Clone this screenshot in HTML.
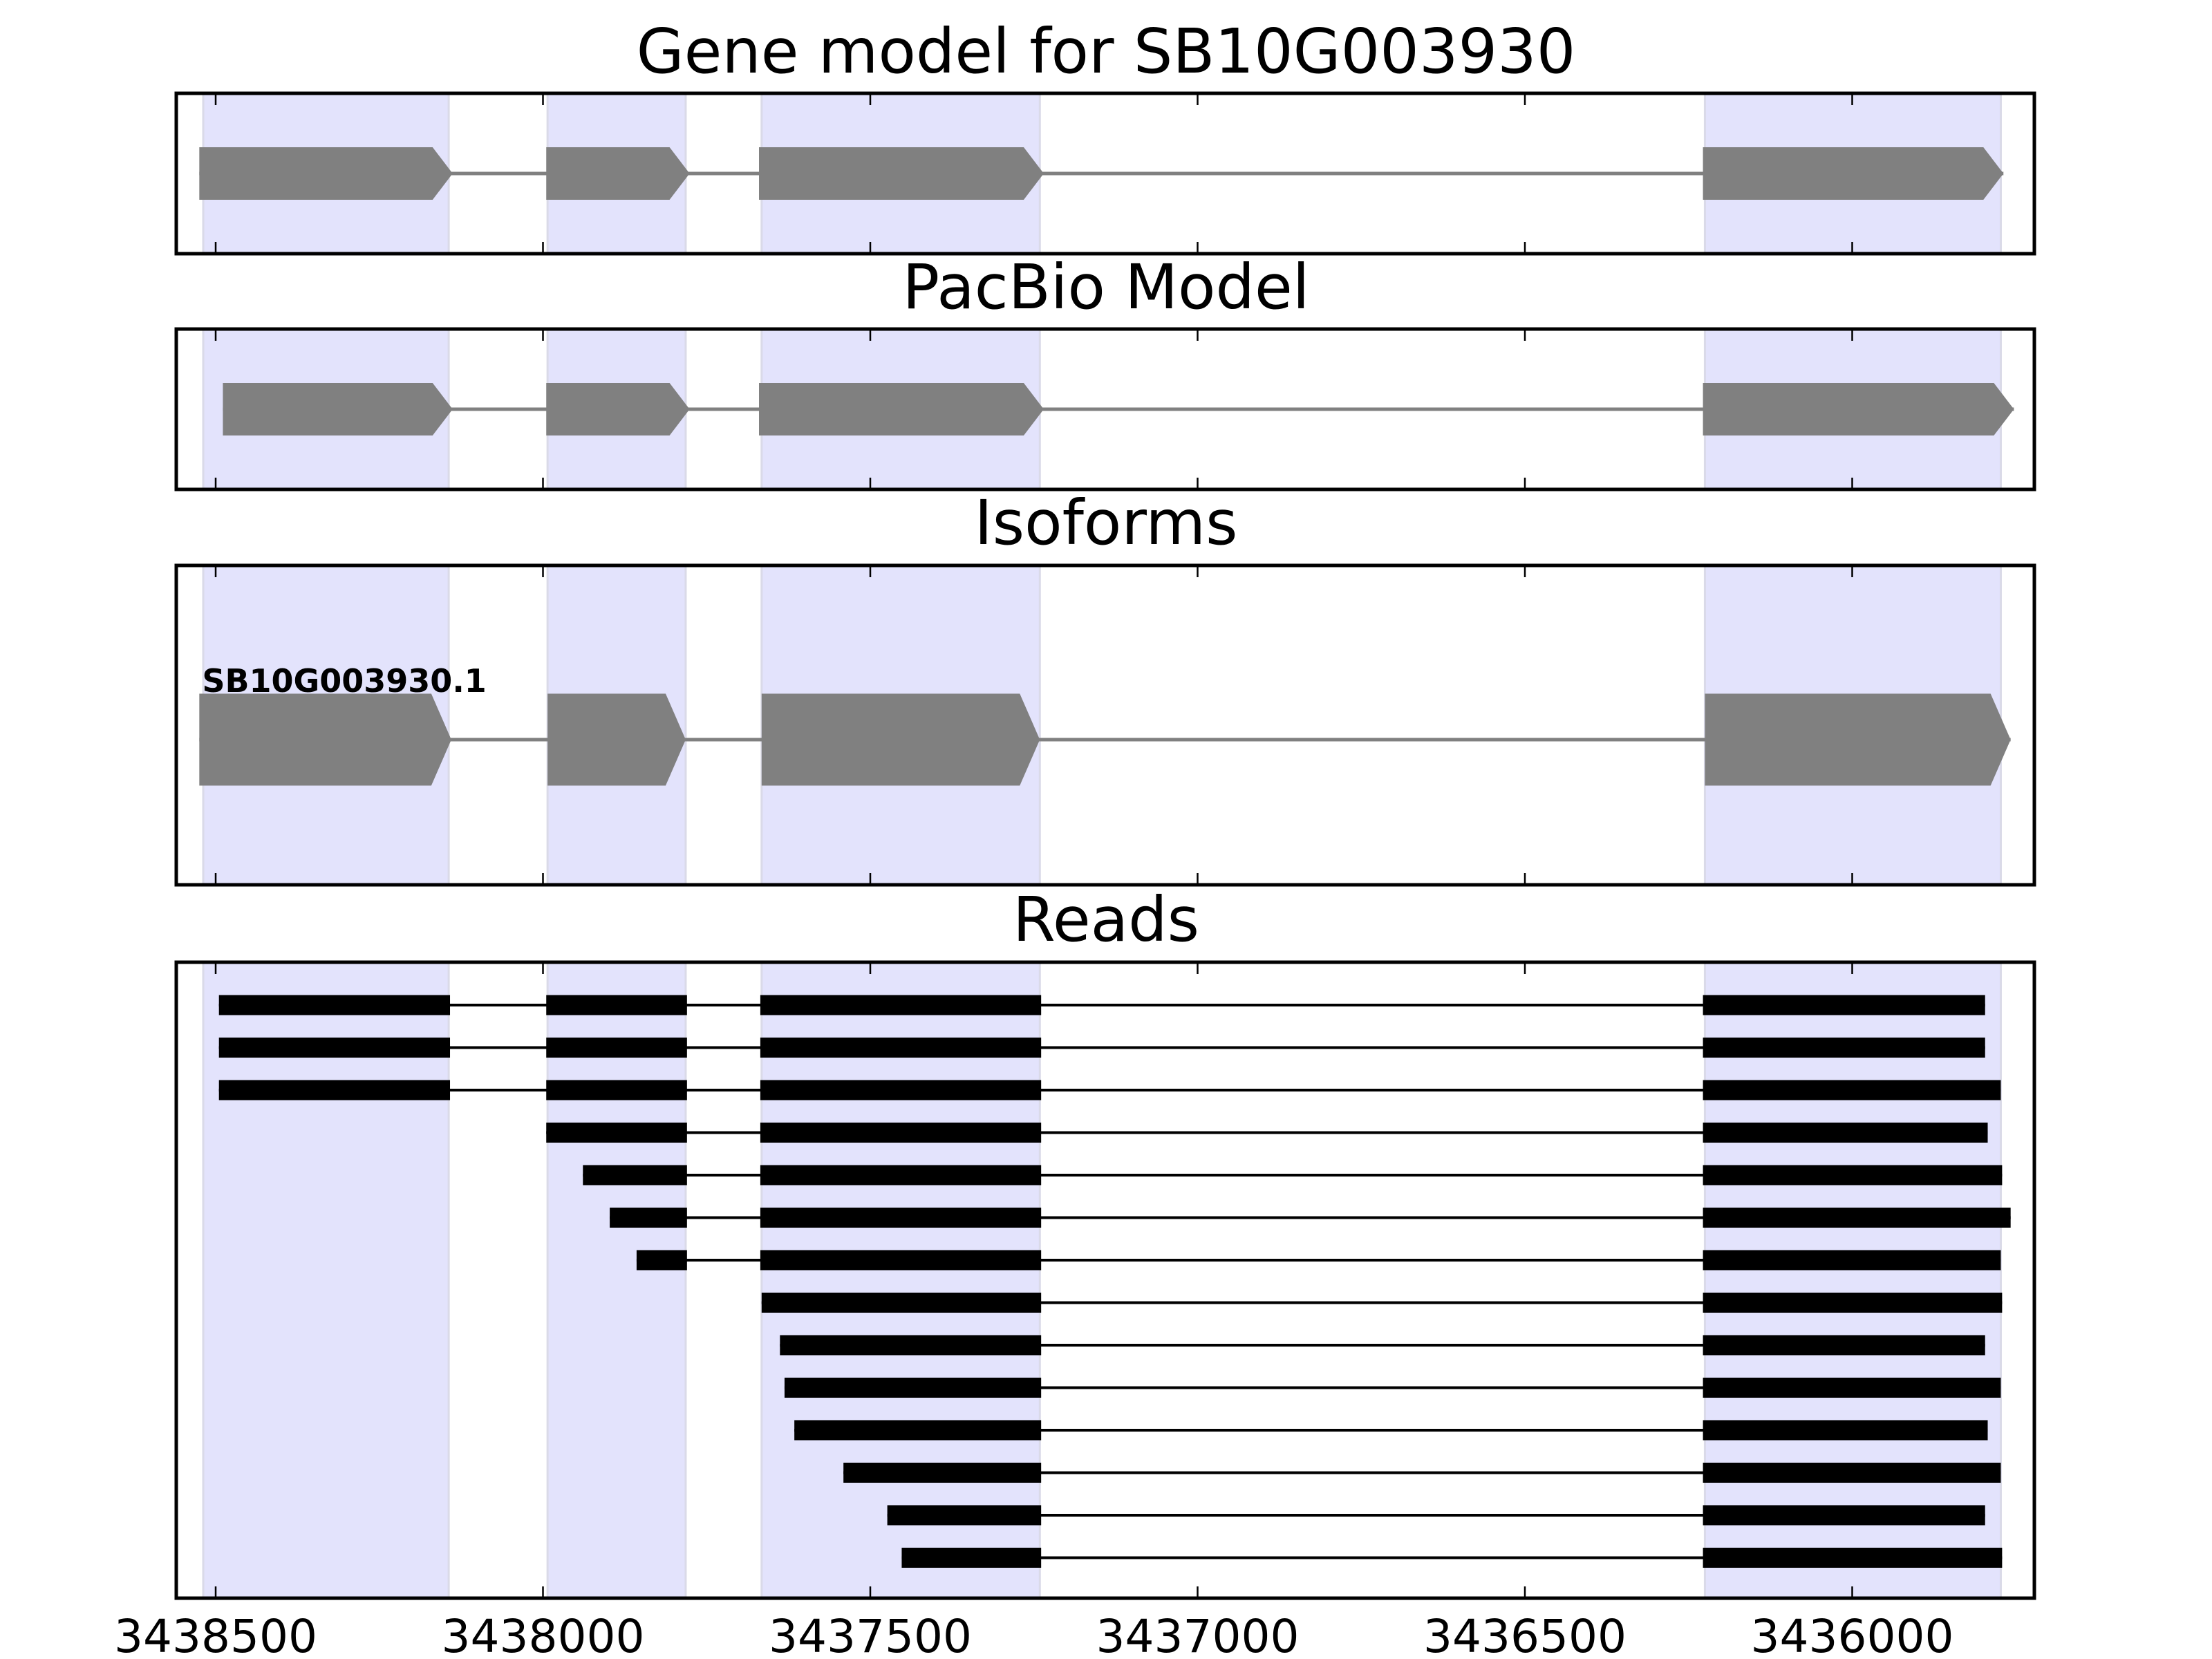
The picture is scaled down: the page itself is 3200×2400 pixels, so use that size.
<!DOCTYPE html>
<html><head><meta charset="utf-8"><style>
html,body{margin:0;padding:0;background:#fff;}
svg{display:block;}
text{font-family:"DejaVu Sans","Liberation Sans",sans-serif;}
</style></head><body>
<svg id="chart" width="3200" height="2400" viewBox="0 0 3200 2400" xmlns="http://www.w3.org/2000/svg"></svg>
<script>
const tickValues = [3438500, 3438000, 3437500, 3437000, 3436500, 3436000];
const tickLabels = ["3438500", "3438000", "3437500", "3437000", "3436500", "3436000"];
const exonRegions = [[3438519, 3438144], [3437993, 3437782], [3437666, 3437241], [3436225, 3435773]];
const geneExons = [[3438525, 3438138], [3437995, 3437776], [3437670, 3437235], [3436228, 3435769]];
const pacbioExons = [[3438489, 3438138], [3437995, 3437776], [3437670, 3437235], [3436228, 3435753]];
const isoformExons = [[3438525, 3438140], [3437993, 3437782], [3437666, 3437241], [3436225, 3435758]];
const isoformName = "SB10G003930.1";
const reads = [
 [[3438495,3438142],[3437995,3437780],[3437668,3437239],[3436228,3435797]],
 [[3438495,3438142],[3437995,3437780],[3437668,3437239],[3436228,3435797]],
 [[3438495,3438142],[3437995,3437780],[3437668,3437239],[3436228,3435773]],
 [[3437995,3437780],[3437668,3437239],[3436228,3435793]],
 [[3437939,3437780],[3437668,3437239],[3436228,3435771]],
 [[3437898,3437780],[3437668,3437239],[3436228,3435758]],
 [[3437857,3437780],[3437668,3437239],[3436228,3435773]],
 [[3437666,3437239],[3436228,3435771]],
 [[3437638,3437239],[3436228,3435797]],
 [[3437631,3437239],[3436228,3435773]],
 [[3437616,3437239],[3436228,3435793]],
 [[3437541,3437239],[3436228,3435773]],
 [[3437474,3437239],[3436228,3435797]],
 [[3437452,3437239],[3436228,3435771]]
];
const NS = "http://www.w3.org/2000/svg";
const svg = document.getElementById('chart');
const L = 255, R = 2943;
const xScale = v => 312 + (3438500 - v) * 0.947;
function el(tag, attrs, parent) {
  const e = document.createElementNS(NS, tag);
  for (const k in attrs) e.setAttribute(k, attrs[k]);
  (parent || svg).appendChild(e);
  return e;
}
const panels = [
  {name:"gene-model-panel", title:"Gene model for SB10G003930", top:135, bot:367, titleY:105},
  {name:"pacbio-model-panel", title:"PacBio Model", top:476, bot:708, titleY:446},
  {name:"isoforms-panel", title:"Isoforms", top:818, bot:1280, titleY:787},
  {name:"reads-panel", title:"Reads", top:1392, bot:2312, titleY:1361}
];
panels.forEach((p, pi) => {
  const g = el('g', {});
  
  
  exonRegions.forEach((r, i) => {
    const x1 = xScale(r[0]), x2 = xScale(r[1]);
    const rc = el('rect', {x:x1, y:p.top, width:x2-x1, height:p.bot-p.top, fill:'#e3e3fc', stroke:'#dadae8', 'stroke-width':3}, g);
    
    
  });
  tickValues.forEach(v => {
    const x = xScale(v);
    el('line', {x1:x, x2:x, y1:p.top, y2:p.top+17, stroke:'#000', 'stroke-width':2.5}, g);
    el('line', {x1:x, x2:x, y1:p.bot, y2:p.bot-17, stroke:'#000', 'stroke-width':2.5}, g);
  });
  const t = el('text', {x:1600, y:p.titleY, 'text-anchor':'middle', 'font-size':89, fill:'#000'}, g);
  t.textContent = p.title;
  
  
  p.g = g;
});
function drawGene(g, exons, cy, h, label) {
  const xs = exons.map(e => [xScale(e[0]), xScale(e[1])]);
  el('line', {x1:xs[0][0], x2:xs[xs.length-1][1], y1:cy, y2:cy, stroke:'#808080', 'stroke-width':5}, g);
  xs.forEach(([a, b]) => {
    const tip = 29;
    const pts = [[a,cy-h/2],[b-tip,cy-h/2],[b,cy],[b-tip,cy+h/2],[a,cy+h/2]].map(p=>p.join(',')).join(' ');
    const pg = el('polygon', {points:pts, fill:'#808080'}, g);
    
    
  });
  if (label) {
    const t = el('text', {x:xs[0][0]+4, y:cy-69, 'font-size':46, 'font-weight':'bold', fill:'#000'}, g);
    t.textContent = label;
    
    
  }
}
drawGene(panels[0].g, geneExons, 251, 76);
drawGene(panels[1].g, pacbioExons, 592, 76);
drawGene(panels[2].g, isoformExons, 1070, 133, isoformName);
reads.forEach((rd, i) => {
  const cy = 1454 + i * 61.5;
  const g = el('g', {}, panels[3].g);
  
  
  el('line', {x1:xScale(rd[0][0]), x2:xScale(rd[rd.length-1][1]), y1:cy, y2:cy, stroke:'#000', 'stroke-width':4}, g);
  rd.forEach(e => {
    const a = xScale(e[0]), b = xScale(e[1]);
    const rc = el('rect', {x:a, y:cy-14.5, width:b-a, height:29, fill:'#000'}, g);
    
    
  });
});
panels.forEach(p => {
  const f = el('rect', {x:L, y:p.top, width:R-L, height:p.bot-p.top, fill:'none', stroke:'#000', 'stroke-width':5}, p.g);
  
  
});
const xa = el('g', {});


tickValues.forEach((v, i) => {
  const t = el('text', {x:xScale(v), y:2390, 'text-anchor':'middle', 'font-size':66, fill:'#000'}, xa);
  t.textContent = tickLabels[i];
  
  
});
</script>
</body></html>
